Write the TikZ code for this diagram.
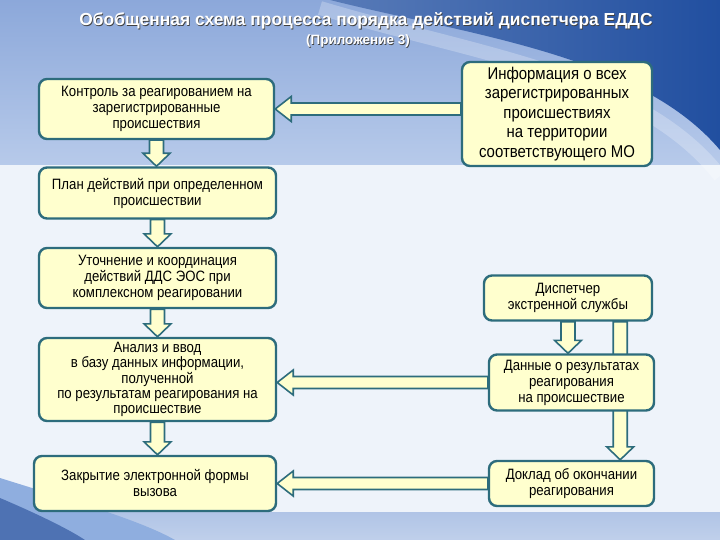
\documentclass[tikz,border=0pt]{standalone}
\usepackage{fontspec}
\setmainfont{Liberation Sans}
\newfontfamily\narrowfont{Liberation Sans}[FakeStretch=0.88]
\usetikzlibrary{calc}

\definecolor{boxfill}{RGB}{255,255,206}
\definecolor{edge}{RGB}{45,108,124}
\definecolor{bglight}{RGB}{238,243,250}
\definecolor{bandtop}{RGB}{140,168,218}
\definecolor{bandbot}{RGB}{183,202,234}
\definecolor{wavedark}{RGB}{33,79,160}
\definecolor{wavemid}{RGB}{143,174,223}
\definecolor{bottomband}{RGB}{176,196,230}

\pgfdeclarelayer{bg}
\pgfdeclarelayer{arr}
\pgfsetlayers{bg,arr,main}

\tikzset{
  box/.style={draw=edge, line width=2.4pt, fill=boxfill, rounded corners=8pt,
    align=center, inner sep=2pt, font=\narrowfont\fontsize{15}{16}\selectfont},
  barrow/.style={draw=edge, line width=1.6pt, fill=boxfill, line join=miter},
  ttl/.style={font=\bfseries\fontsize{17.4}{19}\selectfont, text=white},
  subttl/.style={font=\bfseries\fontsize{13.5}{15}\selectfont, text=white},
}

% block arrow pointing down, from #1 to #2
\newcommand\downarr[2]{%
  \path[barrow] let \p1=(#1), \p2=(#2) in
    (\x1-7pt,\y1) -- (\x1+7pt,\y1) -- (\x1+7pt,\y2+13pt) -- (\x1+13.5pt,\y2+13pt)
    -- (\x1,\y2) -- (\x1-13.5pt,\y2+13pt) -- (\x1-7pt,\y2+13pt) -- cycle;}
% block arrow pointing left, from #1 to #2
\newcommand\leftarr[2]{%
  \path[barrow] let \p1=(#1), \p2=(#2) in
    (\x1,\y1+6pt) -- (\x2+16pt,\y1+6pt) -- (\x2+16pt,\y1+12.5pt) -- (\x2,\y1)
    -- (\x2+16pt,\y1-12.5pt) -- (\x2+16pt,\y1-6pt) -- (\x1,\y1-6pt) -- cycle;}

\begin{document}
\begin{tikzpicture}[x=1pt,y=-1pt]
  \useasboundingbox (0,0) rectangle (720,540);

  % background
  \begin{pgfonlayer}{bg}
    \fill[bglight] (0,0) rectangle (720,540);
    \shade[top color=bandtop, bottom color=bandbot] (0,0) rectangle (720,165);
    \draw[white, opacity=.25, line width=14pt] (320,8) .. controls (480,56) and (640,74) .. (720,176);
    \shade[left color=wavedark!75, right color=wavedark] (330,0) .. controls (470,35) and (640,55) .. (720,150) -- (720,0) -- cycle;
    \shade[top color=bottomband, bottom color=bottomband!80!white] (0,512) rectangle (720,540);
    \fill[wavemid] (0,478) .. controls (70,500) and (140,520) .. (175,540) -- (0,540) -- cycle;
    \fill[wavedark!80] (0,498) .. controls (40,515) and (70,530) .. (85,540) -- (0,540) -- cycle;
  \end{pgfonlayer}

  % title
  \node[ttl, text=black!75] (titleshadow) at (366.8,21.8) {Обобщенная схема процесса порядка действий диспетчера ЕДДС};
  \node[ttl] (title) at (366,21) {Обобщенная схема процесса порядка действий диспетчера ЕДДС};
  \node[subttl, text=black!75] (subshadow) at (358.7,41.7) {(Приложение 3)};
  \node[subttl] (sub) at (358,41) {(Приложение 3)};

  % left column
  \node[box, minimum width=235pt, minimum height=60pt] (kontrol) at (156.5,109)
    {Контроль за реагированием на\\зарегистрированные\\происшествия};
  \node[box, minimum width=237pt, minimum height=51pt] (plan) at (157.5,193)
    {План действий при определенном\\происшествии};
  \node[box, minimum width=237pt, minimum height=60pt] (utoch) at (157.5,278)
    {Уточнение и координация\\действий ДДС ЭОС при\\комплексном реагировании};
  \node[box, font=\narrowfont\fontsize{15}{15.2}\selectfont, minimum width=237pt, minimum height=83pt] (analiz) at (157.5,379.5)
    {Анализ и ввод\\в базу данных информации,\\полученной\\по результатам реагирования на\\происшествие};
  \node[box, minimum width=242pt, minimum height=55pt] (zakr) at (155,483.5)
    {Закрытие электронной формы\\вызова};

  % right column
  \node[box, font=\narrowfont\fontsize{17}{19.5}\selectfont, minimum width=190pt, minimum height=104pt] (info) at (557,114)
    {Информация о всех\\зарегистрированных\\происшествиях\\на территории\\соответствующего МО};
  \node[box, minimum width=168pt, minimum height=45pt] (disp) at (568,298)
    {Диспетчер\\экстренной службы};
  \node[box, minimum width=165pt, minimum height=56pt] (dannye) at (571.5,382.5)
    {Данные о результатах\\реагирования\\на происшествие};
  \node[box, minimum width=165pt, minimum height=45pt] (doklad) at (571.5,483.5)
    {Доклад об окончании\\реагирования};

  \coordinate (dside) at ([xshift=-33pt]disp.south east);

  % connectors
  \begin{pgfonlayer}{arr}
    \downarr{kontrol.south}{plan.north}
    \downarr{plan.south}{utoch.north}
    \downarr{utoch.south}{analiz.north}
    \downarr{analiz.south}{zakr.north}
    \downarr{disp.south}{disp.south |- dannye.north}
    \downarr{dside}{dside |- doklad.north}
    \leftarr{info.west |- kontrol.east}{kontrol.east}
    \leftarr{dannye.west}{analiz.east |- dannye.west}
    \leftarr{doklad.west}{zakr.east |- doklad.west}
  \end{pgfonlayer}
\end{tikzpicture}
\end{document}
